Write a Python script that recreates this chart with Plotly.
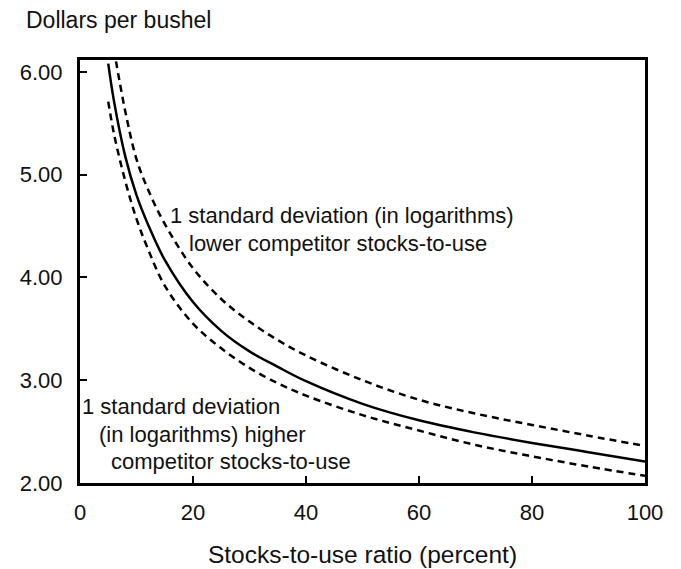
import plotly.graph_objects as go

# Data
x_mid = [5, 6, 8, 10, 12, 15, 20, 25, 30, 35, 40, 50, 60, 70, 80, 90, 100]
price_mid = [6.08, 5.72, 5.18, 4.80, 4.52, 4.17, 3.76, 3.48, 3.28, 3.13, 2.99, 2.77, 2.61, 2.49, 2.39, 2.30, 2.21]

x_upper = [6, 8, 10, 12, 15, 20, 25, 30, 35, 40, 50, 60, 70, 80, 90, 100]
price_upper = [6.22, 5.62, 5.15, 4.86, 4.52, 4.09, 3.79, 3.57, 3.39, 3.24, 3.00, 2.81, 2.675, 2.565, 2.46, 2.36]

x_lower = [5, 6, 8, 10, 12, 15, 20, 25, 30, 35, 40, 50, 60, 70, 80, 90, 100]
price_lower = [5.71, 5.40, 4.94, 4.57, 4.28, 3.92, 3.55, 3.31, 3.12, 2.97, 2.85, 2.66, 2.51, 2.37, 2.26, 2.16, 2.07]

x_ticks = [0, 20, 40, 60, 80, 100]
y_ticks = [2, 3, 4, 5, 6]
y_tick_labels = ["2.00", "3.00", "4.00", "5.00", "6.00"]

FONT = "Liberation Sans, Arial, Helvetica, sans-serif"

fig = go.Figure()
fig.add_trace(go.Scatter(x=x_upper, y=price_upper, mode="lines", line_shape="spline",
                         line=dict(color="black", width=2.5, dash="7px,5px"), showlegend=False))
fig.add_trace(go.Scatter(x=x_mid, y=price_mid, mode="lines", line_shape="spline",
                         line=dict(color="black", width=2.5), showlegend=False))
fig.add_trace(go.Scatter(x=x_lower, y=price_lower, mode="lines", line_shape="spline",
                         line=dict(color="black", width=2.5, dash="7px,5px"), showlegend=False))

ann_font = dict(family=FONT, size=22, color="#111")
annotations = [
    dict(text="Dollars per bushel", xref="paper", yref="paper", x=-0.100, y=1.094,
         xanchor="left", yanchor="middle", showarrow=False, font=dict(family=FONT, size=23, color="#111")),
    dict(text="1 standard deviation (in logarithms)", x=15.6, y=4.60, xanchor="left", yanchor="middle",
         showarrow=False, font=ann_font),
    dict(text="lower competitor stocks-to-use", x=19.0, y=4.33, xanchor="left", yanchor="middle",
         showarrow=False, font=ann_font),
    dict(text="1 standard deviation", x=0.0, y=2.74, xanchor="left", yanchor="middle",
         showarrow=False, font=ann_font),
    dict(text="(in logarithms) higher", x=3.0, y=2.47, xanchor="left", yanchor="middle",
         showarrow=False, font=ann_font),
    dict(text="competitor stocks-to-use", x=5.1, y=2.21, xanchor="left", yanchor="middle",
         showarrow=False, font=ann_font),
]

# page body has an 8px margin, so the figure is shifted; margins compensate
fig.update_layout(
    width=681, height=569,
    margin=dict(l=69, r=44, t=52, b=87),
    paper_bgcolor="white", plot_bgcolor="white",
    font=dict(family=FONT, size=22, color="#111"),
    annotations=annotations,
    xaxis=dict(range=[0, 100], tickvals=x_ticks, ticks="inside", ticklen=7, tickwidth=1.5,
               tickcolor="black", showline=True, linecolor="black", linewidth=3, mirror=True,
               showgrid=False, zeroline=False, ticklabelstandoff=8,
               title=dict(text="Stocks-to-use ratio (percent)", standoff=22,
                          font=dict(family=FONT, size=24.5, color="#111"))),
    yaxis=dict(range=[2, 6.115], tickvals=y_ticks, ticktext=y_tick_labels, ticks="inside",
               ticklen=7, tickwidth=1.5, tickcolor="black", showline=True, linecolor="black",
               linewidth=3, mirror=True, showgrid=False, zeroline=False, ticklabelstandoff=10),
)

fig.write_html("out.html")
